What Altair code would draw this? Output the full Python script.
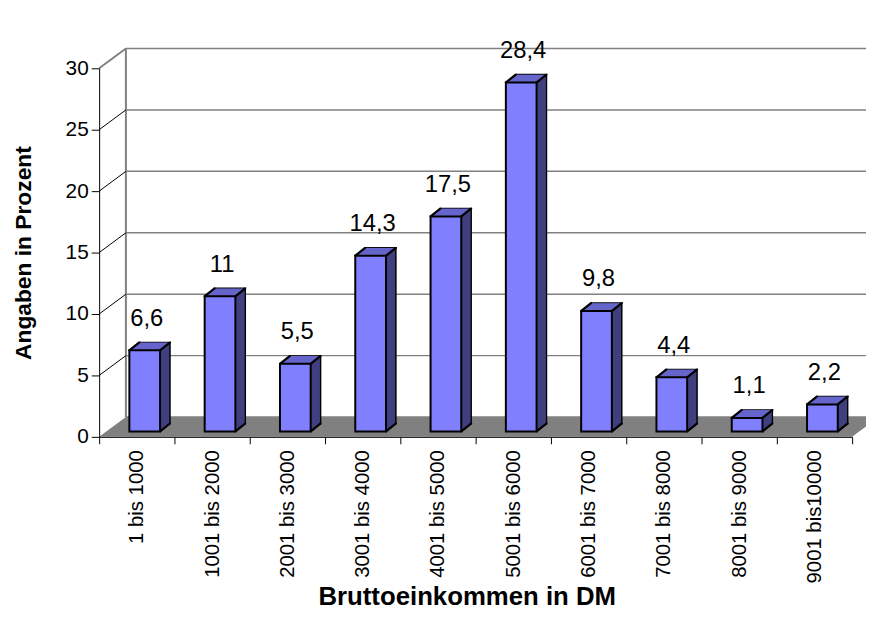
import altair as alt
import pandas as pd

categories = ["1 bis 1000", "1001 bis 2000", "2001 bis 3000", "3001 bis 4000",
              "4001 bis 5000", "5001 bis 6000", "6001 bis 7000", "7001 bis 8000",
              "8001 bis 9000", "9001 bis10000"]
values = [6.6, 11, 5.5, 14.3, 17.5, 28.4, 9.8, 4.4, 1.1, 2.2]
labels = ["6,6", "11", "5,5", "14,3", "17,5", "28,4", "9,8", "4,4", "1,1", "2,2"]
y_ticks = [0, 5, 10, 15, 20, 25, 30]

W, H = 760, 372
PXU = H / 30.0          # pixels per unit
DX, DY = 27, 20         # depth of the back wall
BW = 31                 # bar front width
BX, BY = 8, -5.5        # bar front shift
SX, SY = 10, 8          # bar depth
FONT = "Liberation Sans"

FRONT = "#8080FF"
TOP = "#6666CC"
SIDE = "#404080"
GRAY = "#808080"

df = pd.DataFrame({"cat": categories, "val": values, "lab": labels})
grid = pd.DataFrame({"t": y_ticks})
inner = pd.DataFrame({"t": y_ticks[1:-1]})
topline = pd.DataFrame({"t": [30]})
wall = pd.DataFrame({"a": [0], "b": [30]})
floor = pd.DataFrame({
    "fx": [0, DX, W, W + DX],
    "lo": [0, 0, 0, DY / PXU],
    "hi": [0, DY / PXU, DY / PXU, DY / PXU],
})

xs = alt.Scale(domain=categories, paddingInner=0, paddingOuter=0)
ys = alt.Scale(domain=[0, 30], nice=False, zero=True)

YAXIS = alt.Axis(title="Angaben in Prozent", values=y_ticks, labelFontSize=21,
                 labelFont=FONT, labelColor="black", tickSize=8, tickColor="black",
                 domainColor="black", labelPadding=3, titleFont=FONT,
                 titleFontSize=23, titleFontWeight="bold", titleColor="black",
                 titlePadding=30, zindex=1, grid=False)


def X():
    return alt.X("cat:N", sort=categories, scale=xs, axis=None)


def Y(field="val"):
    return alt.Y(f"{field}:Q", scale=ys, axis=YAXIS)


layers = []

# back wall gridlines
layers.append(alt.Chart(grid).mark_rule(yOffset=-DY, color=GRAY, strokeWidth=1.5).encode(
    x=alt.value(DX), x2=alt.value(W + DX + 40), y=Y("t")))
# back wall left edge
layers.append(alt.Chart(wall).mark_rule(yOffset=-DY, y2Offset=-DY, color=GRAY, strokeWidth=2).encode(
    x=alt.value(DX), y=Y("b"), y2=alt.Y2("a:Q")))
# side wall diagonals
layers.append(alt.Chart(inner).mark_rule(y2Offset=-DY, color="black", strokeWidth=1).encode(
    x=alt.value(0), x2=alt.value(DX), y=Y("t"), y2=alt.Y2("t:Q")))
layers.append(alt.Chart(topline).mark_rule(y2Offset=-DY, color=GRAY, strokeWidth=2).encode(
    x=alt.value(0), x2=alt.value(DX), y=Y("t"), y2=alt.Y2("t:Q")))
# floor
layers.append(alt.Chart(floor).mark_area(color=GRAY, opacity=1).encode(
    x=alt.X("fx:Q", scale=alt.Scale(domain=[0, W], nice=False, zero=False), axis=None),
    y=Y("hi"), y2=alt.Y2("lo:Q")))

base = alt.Chart(df)

# extruded depth of the bars
N = 10
for k in range(N, 0, -1):
    ox = BX + SX * k / N
    oy = BY - SY * k / N
    props = dict(width=BW, xOffset=ox, yOffset=oy, color=SIDE)
    if k == N:
        props.update(stroke="black", strokeWidth=1.5)
    layers.append(base.mark_bar(**props).encode(x=X(), y=Y()))

# top faces
for k in range(1, N):
    ox = BX + SX * k / N
    oy = BY - SY * k / N
    layers.append(base.mark_tick(size=BW - 2, thickness=1.4, xOffset=ox, yOffset=oy,
                                 color=TOP, opacity=1).encode(x=X(), y=Y()))

# depth edges
for k in range(0, 2 * N + 1):
    ox = BX + SX * k / (2 * N)
    oy = BY - SY * k / (2 * N)
    for dxe, fld in ((-BW / 2, "val"), (BW / 2, "val"), (BW / 2, None)):
        enc = dict(x=X())
        if fld:
            enc["y"] = Y(fld)
        else:
            enc["y"] = alt.Y(datum=0, scale=ys, axis=YAXIS)
        layers.append(base.mark_tick(size=2, thickness=1.6, xOffset=ox + dxe, yOffset=oy,
                                     color="black", opacity=1).encode(**enc))

# front faces with the x axis
layers.append(base.mark_bar(width=BW, xOffset=BX, yOffset=BY, color=FRONT,
                            stroke="black", strokeWidth=2).encode(
    x=alt.X("cat:N", sort=categories, scale=xs,
            axis=alt.Axis(title="Bruttoeinkommen in DM", labelAngle=-90, labelFontSize=20.5,
                          labelFont=FONT, labelColor="black", tickBand="extent", tickSize=7,
                          tickColor="black", domainColor="black", labelPadding=6,
                          titleFont=FONT, titleFontSize=26, titleFontWeight="bold",
                          titleColor="black", titlePadding=1, titleX=371, zindex=1,
                          grid=False)),
    y=Y(),
))

# value labels
layers.append(base.mark_text(fontSize=24, font=FONT, color="black", baseline="bottom",
                             xOffset=BX + 2, yOffset=BY, dy=-20).encode(
    x=X(), y=Y(), text="lab:N"))

chart = alt.layer(*layers).resolve_scale(x="independent").properties(
    width=W, height=H,
    autosize=alt.AutoSizeParams(type="none"),
    padding={"left": 92, "top": 58, "right": 14, "bottom": 184},
).configure_view(strokeWidth=0)

chart.save("out.html", embed_options={"renderer": "svg", "actions": False})
